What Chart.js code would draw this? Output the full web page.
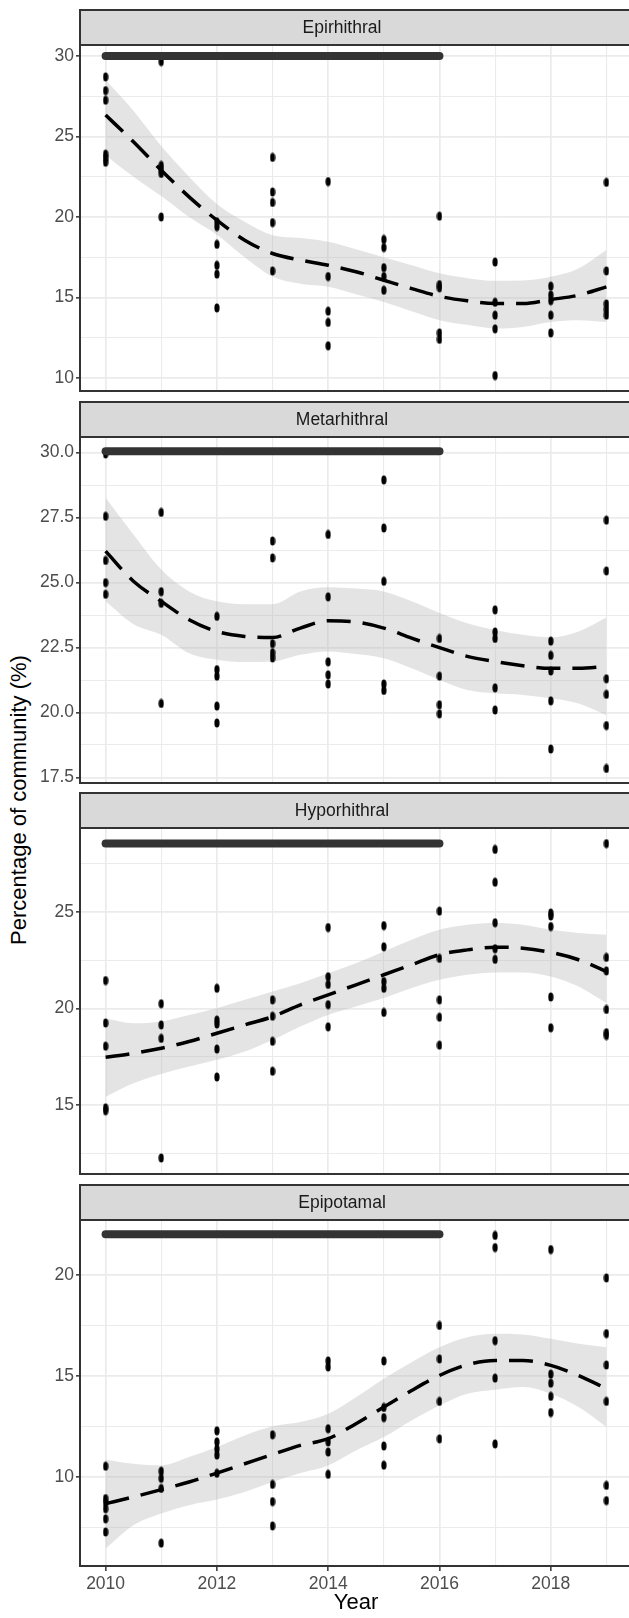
<!DOCTYPE html>
<html>
<head>
<meta charset="utf-8">
<script src="https://cdn.jsdelivr.net/npm/chart.js@4.4.0/dist/chart.umd.min.js"></script>
<style>
  html, body { margin: 0; padding: 0; background: #fff; }
  body { width: 629px; height: 1618px; position: relative; overflow: hidden; }
  canvas { position: absolute; left: 0; }
  #ytitle {
    position: absolute; left: -181px; top: 787px; width: 400px; height: 26px;
    line-height: 26px; text-align: center; transform: rotate(-90deg);
    font: 22px "Liberation Sans", Arial, sans-serif; color: #000;
  }
</style>
</head>
<body>
<div id="ytitle">Percentage of community (%)</div>
<canvas id="p0" width="640" height="399"></canvas>
<canvas id="p1" width="640" height="399"></canvas>
<canvas id="p2" width="640" height="399"></canvas>
<canvas id="p3" width="640" height="435"></canvas>
<script>
// years sampled, one column of points per year
const years = [2010, 2011, 2012, 2013, 2014, 2015, 2016, 2017, 2018, 2019];

// Epirhithral points per year
const epiPts = [
  [28.7, 27.85, 27.25, 23.9, 23.65, 23.4],
  [29.65, 23.2, 22.95, 22.7, 20.0],
  [19.7, 19.4, 18.3, 17.0, 16.45, 14.35],
  [23.7, 21.55, 20.9, 19.65, 16.65],
  [22.2, 16.3, 14.15, 13.45, 12.0],
  [18.6, 18.1, 16.85, 16.3, 15.45],
  [20.05, 15.8, 15.6, 12.8, 12.4],
  [17.2, 14.7, 13.9, 13.05, 10.15],
  [15.7, 15.15, 14.8, 13.9, 12.8],
  [22.15, 16.65, 14.6, 14.25, 13.9]
];
// Metarhithral points per year
const metaPts = [
  [29.95, 27.55, 25.85, 25.0, 24.55],
  [27.7, 24.65, 24.2, 20.35],
  [23.7, 21.65, 21.4, 20.25, 19.6],
  [26.6, 25.95, 22.65, 22.3, 22.1],
  [26.85, 24.45, 21.95, 21.45, 21.1],
  [28.95, 27.1, 25.05, 21.1, 20.85],
  [22.85, 21.4, 20.3, 19.95],
  [23.95, 23.1, 22.85, 20.95, 20.1],
  [22.75, 22.2, 21.6, 20.45, 18.6],
  [27.4, 25.45, 21.3, 20.7, 19.5, 17.85]
];
// Hyporhithral points per year
const hypoPts = [
  [21.45, 19.25, 18.05, 14.85, 14.7],
  [20.25, 19.15, 18.45, 12.25],
  [21.05, 19.4, 19.2, 17.9, 16.45],
  [20.45, 19.6, 18.3, 16.75],
  [24.2, 21.65, 21.25, 20.2, 19.05],
  [24.3, 23.2, 21.4, 21.05, 19.8],
  [25.05, 22.6, 20.45, 19.55, 18.1],
  [28.25, 26.55, 24.45, 23.1, 22.55],
  [24.95, 24.8, 24.25, 20.6, 19.0],
  [28.55, 22.65, 21.95, 19.95, 18.75, 18.6]
];
// Epipotamal points per year
const potaPts = [
  [10.55, 8.95, 8.75, 8.45, 7.95, 7.3],
  [10.3, 9.95, 9.45, 6.75],
  [12.3, 11.75, 11.4, 11.1, 10.2],
  [12.1, 9.65, 8.8, 7.6],
  [15.75, 15.45, 12.4, 11.75, 11.25, 10.15],
  [15.75, 13.45, 12.95, 11.55, 10.6],
  [17.5, 15.85, 13.75, 11.9],
  [21.95, 21.35, 16.75, 14.9, 11.65],
  [21.25, 15.1, 14.65, 14.0, 13.2],
  [19.85, 17.1, 15.55, 13.75, 9.6, 8.85]
];

// smoother (loess) read at every half year, with its confidence band
const fitYears = [2010, 2010.5, 2011, 2011.5, 2012, 2012.5, 2013, 2013.5, 2014, 2014.5,
                  2015, 2015.5, 2016, 2016.5, 2017, 2017.5, 2018, 2018.5, 2019];
const epiFit = [26.33, 24.67, 22.9, 21.25, 19.8, 18.56, 17.73, 17.32, 17.0, 16.6, 16.07, 15.55, 15.07, 14.79, 14.62, 14.62, 14.87, 15.14, 15.66];
const epiHi  = [28.5, 26.6, 24.4, 22.5, 20.8, 19.7, 18.87, 18.7, 18.46, 18.0, 17.5, 17.0, 16.5, 16.2, 16.03, 16.05, 16.28, 16.8, 17.94];
const epiLo  = [23.84, 22.5, 21.3, 20.0, 18.9, 17.5, 16.3, 15.85, 15.66, 15.2, 14.72, 14.15, 13.59, 13.3, 13.07, 13.17, 13.48, 13.59, 13.48];
const metaFit = [26.21, 25.05, 24.28, 23.57, 23.12, 22.93, 22.89, 23.25, 23.53, 23.48, 23.25, 22.86, 22.5, 22.16, 21.96, 21.8, 21.7, 21.7, 21.77];
const metaHi  = [28.26, 26.85, 25.5, 24.66, 24.28, 24.17, 24.17, 24.66, 24.82, 24.77, 24.66, 24.28, 23.83, 23.44, 23.18, 22.99, 22.89, 23.12, 23.66];
const metaLo  = [24.28, 23.4, 22.99, 22.28, 22.03, 21.94, 21.96, 22.22, 22.35, 22.25, 22.09, 21.7, 21.25, 20.87, 20.74, 20.68, 20.55, 20.35, 19.9];
const hypoFit = [17.47, 17.68, 17.94, 18.29, 18.72, 19.15, 19.58, 20.19, 20.71, 21.23, 21.75, 22.27, 22.79, 23.04, 23.18, 23.13, 22.91, 22.53, 21.92];
const hypoHi  = [19.5, 19.24, 19.33, 19.67, 20.02, 20.45, 20.88, 21.31, 21.83, 22.35, 22.96, 23.56, 24.08, 24.34, 24.43, 24.34, 24.08, 23.91, 23.82];
const hypoLo  = [15.43, 16.12, 16.61, 16.99, 17.34, 17.77, 18.37, 19.07, 19.67, 20.1, 20.54, 21.06, 21.49, 21.75, 21.87, 21.87, 21.66, 21.14, 20.28];
const potaFit = [8.7, 9.03, 9.39, 9.77, 10.21, 10.67, 11.13, 11.58, 11.91, 12.65, 13.47, 14.29, 15.03, 15.56, 15.77, 15.77, 15.53, 15.03, 14.38];
const potaHi  = [10.87, 10.67, 10.59, 11.0, 11.5, 12.07, 12.52, 12.73, 13.14, 13.96, 14.87, 15.69, 16.43, 16.92, 17.09, 17.06, 16.84, 16.6, 16.43];
const potaLo  = [6.48, 7.63, 8.21, 8.62, 8.9, 9.28, 9.77, 10.21, 10.59, 11.33, 11.99, 12.81, 13.55, 14.13, 14.33, 14.46, 14.13, 13.47, 12.48];

// the period bar (2010-2016) drawn above each panel, at these levels
const barYears = [2010, 2016];
const barLevel = [30, 30.05, 28.55, 22];

// tick labels and minor gridlines for each panel
const epiTicks  = ['10', '15', '20', '25', '30'];
const epiMinor  = [12.5, 17.5, 22.5, 27.5];
const metaTicks = ['17.5', '20.0', '22.5', '25.0', '27.5', '30.0'];
const metaMinor = [18.75, 21.25, 23.75, 26.25, 28.75];
const hypoTicks = ['15', '20', '25'];
const hypoMinor = [12.5, 17.5, 22.5, 27.5];
const potaTicks = ['10', '15', '20'];
const potaMinor = [7.5, 12.5, 17.5];
const xLabelYears = [2010, 2012, 2014, 2016, 2018];

const FONT = '"Liberation Sans", Arial, sans-serif';

// points look like small upright ellipses
const dot = document.createElement('canvas');
dot.width = 6; dot.height = 10;
const dc = dot.getContext('2d');
dc.fillStyle = '#000';
dc.beginPath();
dc.ellipse(3, 5, 2.6, 4.6, 0, 0, Math.PI * 2);
dc.fill();

// strip on top of each panel + panel border
const facetPlugin = {
  id: 'facet',
  afterDraw(chart, args, opts) {
    const { ctx, chartArea: a } = chart;
    ctx.save();
    ctx.fillStyle = '#d9d9d9';
    ctx.fillRect(a.left, a.top - 35, a.right - a.left, 35);
    ctx.strokeStyle = '#333333';
    ctx.lineWidth = 2;
    ctx.strokeRect(a.left, a.top - 35, a.right - a.left, 35);
    ctx.strokeRect(a.left, a.top, a.right - a.left, a.bottom - a.top);
    ctx.fillStyle = '#1a1a1a';
    ctx.font = '17.5px ' + FONT;
    ctx.textAlign = 'center';
    ctx.textBaseline = 'middle';
    ctx.fillText(opts.label, 342, a.top - 17);
    ctx.restore();
  }
};

function makePanel(id, label, pts, fit, hi, lo, level, tickLabels, minor, yMin, yMax, isBottom) {
  const majors = tickLabels.map(Number);
  const allTicks = majors.concat(minor).sort((a, b) => a - b);
  const scatter = [];
  years.forEach((yr, i) => pts[i].forEach(v => scatter.push({ x: yr, y: v })));
  const curve = arr => fitYears.map((x, i) => ({ x: x, y: arr[i] }));

  new Chart(document.getElementById(id), {
    type: 'line',
    data: {
      datasets: [
        {
          data: barYears.map(x => ({ x: x, y: level })),
          borderColor: '#333333', borderWidth: 8, borderCapStyle: 'round',
          pointRadius: 0, fill: false
        },
        {
          data: curve(fit),
          borderColor: '#000', borderWidth: 3.5, borderDash: [24, 12],
          cubicInterpolationMode: 'monotone', pointRadius: 0, fill: false
        },
        {
          data: scatter, showLine: false,
          pointStyle: dot, pointRadius: 3, pointHoverRadius: 3
        },
        {
          data: curve(hi), borderWidth: 0, pointRadius: 0,
          cubicInterpolationMode: 'monotone',
          backgroundColor: 'rgba(185,185,185,0.38)', fill: '+1'
        },
        {
          data: curve(lo), borderWidth: 0, pointRadius: 0,
          cubicInterpolationMode: 'monotone', fill: false
        }
      ]
    },
    options: {
      responsive: false,
      animation: false,
      devicePixelRatio: 1,
      events: [],
      layout: { padding: { top: 37, right: 8, bottom: isBottom ? 0 : 16, left: 0 } },
      plugins: {
        legend: { display: false },
        tooltip: { enabled: false },
        facet: { label: label }
      },
      scales: {
        x: {
          type: 'linear', min: 2009.54, max: 2019.46,
          afterBuildTicks: s => { s.ticks = years.map(v => ({ value: v })); },
          afterFit: s => { s.height = isBottom ? 52 : 0; },
          border: { display: false },
          ticks: {
            display: isBottom, autoSkip: false, maxRotation: 0, padding: 3,
            color: '#4d4d4d', font: { size: 17.5, family: FONT },
            callback: v => xLabelYears.includes(v) ? String(v) : ''
          },
          grid: {
            color: '#ebebeb',
            lineWidth: c => (c.tick && c.tick.value % 2 === 0) ? 1.7 : 1.1,
            drawTicks: isBottom, tickLength: 5, tickWidth: 1.5,
            tickColor: c => (c.tick && xLabelYears.includes(c.tick.value)) ? '#333333' : 'rgba(0,0,0,0)'
          },
          title: {
            display: isBottom, text: 'Year', color: '#000',
            font: { size: 22, family: FONT }, padding: { top: 0, bottom: 2 }
          }
        },
        y: {
          type: 'linear', min: yMin, max: yMax,
          afterBuildTicks: s => { s.ticks = allTicks.map(v => ({ value: v })); },
          afterFit: s => { s.width = 80; },
          border: { display: false },
          ticks: {
            autoSkip: false, padding: 2,
            color: '#4d4d4d', font: { size: 17.5, family: FONT },
            callback: v => { const i = majors.indexOf(v); return i >= 0 ? tickLabels[i] : ''; }
          },
          grid: {
            color: '#ebebeb',
            lineWidth: c => (c.tick && majors.includes(c.tick.value)) ? 1.7 : 1.1,
            tickLength: 4, tickWidth: 1.5,
            tickColor: c => (c.tick && majors.includes(c.tick.value)) ? '#333333' : 'rgba(0,0,0,0)'
          }
        }
      }
    },
    plugins: [facetPlugin]
  });
}

// panel tops on the page
const stripTop = [10, 402, 793, 1185];
['p0', 'p1', 'p2', 'p3'].forEach((id, i) => {
  document.getElementById(id).style.top = (stripTop[i] - 2) + 'px';
});

makePanel('p0', 'Epirhithral', epiPts, epiFit, epiHi, epiLo, barLevel[0], epiTicks, epiMinor, 9.19, 30.68, false);
makePanel('p1', 'Metarhithral', metaPts, metaFit, metaHi, metaLo, barLevel[1], metaTicks, metaMinor, 17.29, 30.6, false);
makePanel('p2', 'Hyporhithral', hypoPts, hypoFit, hypoHi, hypoLo, barLevel[2], hypoTicks, hypoMinor, 11.42, 29.36, false);
makePanel('p3', 'Epipotamal', potaPts, potaFit, potaHi, potaLo, barLevel[3], potaTicks, potaMinor, 5.62, 22.71, true);
</script>
</body>
</html>
